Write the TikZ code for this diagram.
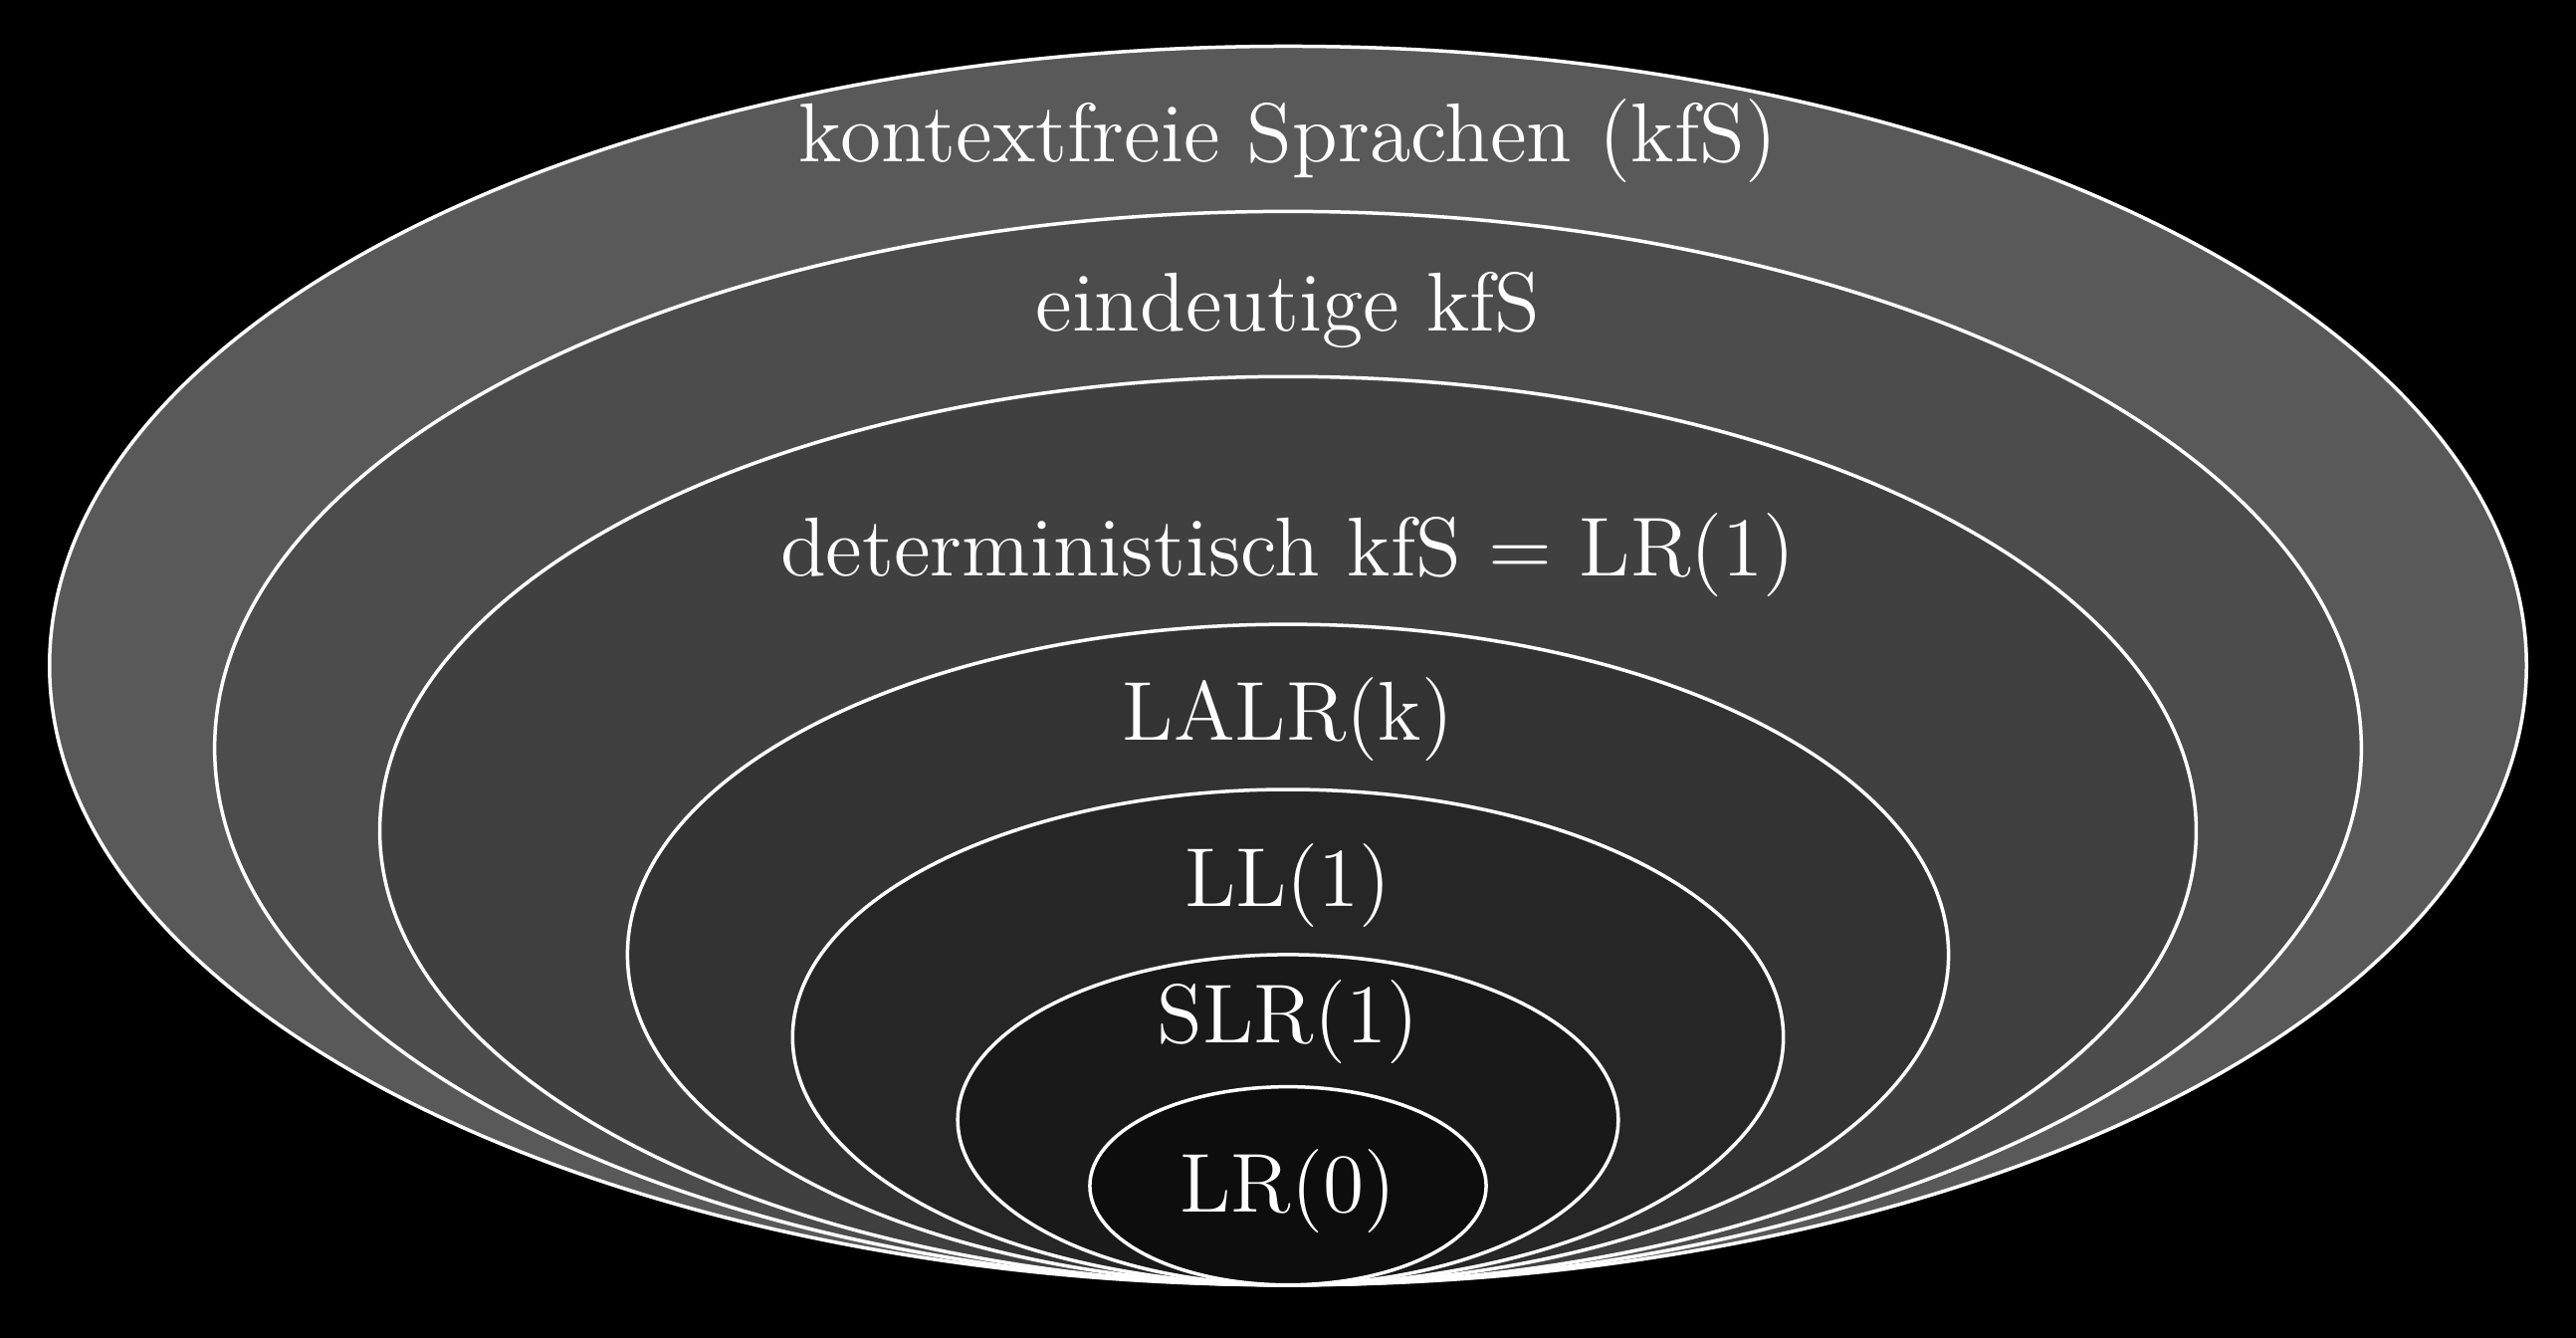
\documentclass[tikz,border=0pt]{standalone}
\begin{document}
\begin{tikzpicture}[font=\Large,
        ring/.style={draw=white, semithick},
        classname/.style={text=white, anchor=base, inner sep=0pt}]
      % background, fixes the margins
      \fill[black] (-7.8,-0.32) rectangle (7.8,7.78);
      \filldraw[ring, fill=black!65] (0,3.75) ellipse [x radius=7.5, y radius=3.75];
      \filldraw[ring, fill=black!70] (0,3.25) ellipse [x radius=6.5, y radius=3.25];
      \filldraw[ring, fill=black!75] (0,2.75) ellipse [x radius=5.5, y radius=2.75];
      \filldraw[ring, fill=black!80] (0,2.0)  ellipse [x radius=4.0, y radius=2.0];
      \filldraw[ring, fill=black!85] (0,1.5)  ellipse [x radius=3.0, y radius=1.5];
      \filldraw[ring, fill=black!90] (0,1.0)  ellipse [x radius=2.0, y radius=1.0];
      \filldraw[ring, fill=black!95] (0,0.6)  ellipse [x radius=1.2, y radius=0.6];
      \node[classname] (kfs)   at (0,6.80)  {kontextfreie Sprachen (kfS)};
      \node[classname] (eind)  at (0,5.775) {eindeutige kfS};
      \node[classname] (det)   at (0,4.295) {deterministisch kfS = LR(1)};
      \node[classname] (lalr)  at (0,3.30)  {LALR(k)};
      \node[classname] (ll)    at (0,2.29)  {LL(1)};
      \node[classname] (slr)   at (0,1.468) {SLR(1)};
      \node[classname] (lr)    at (0,0.443) {LR(0)};
\end{tikzpicture}
\end{document}
